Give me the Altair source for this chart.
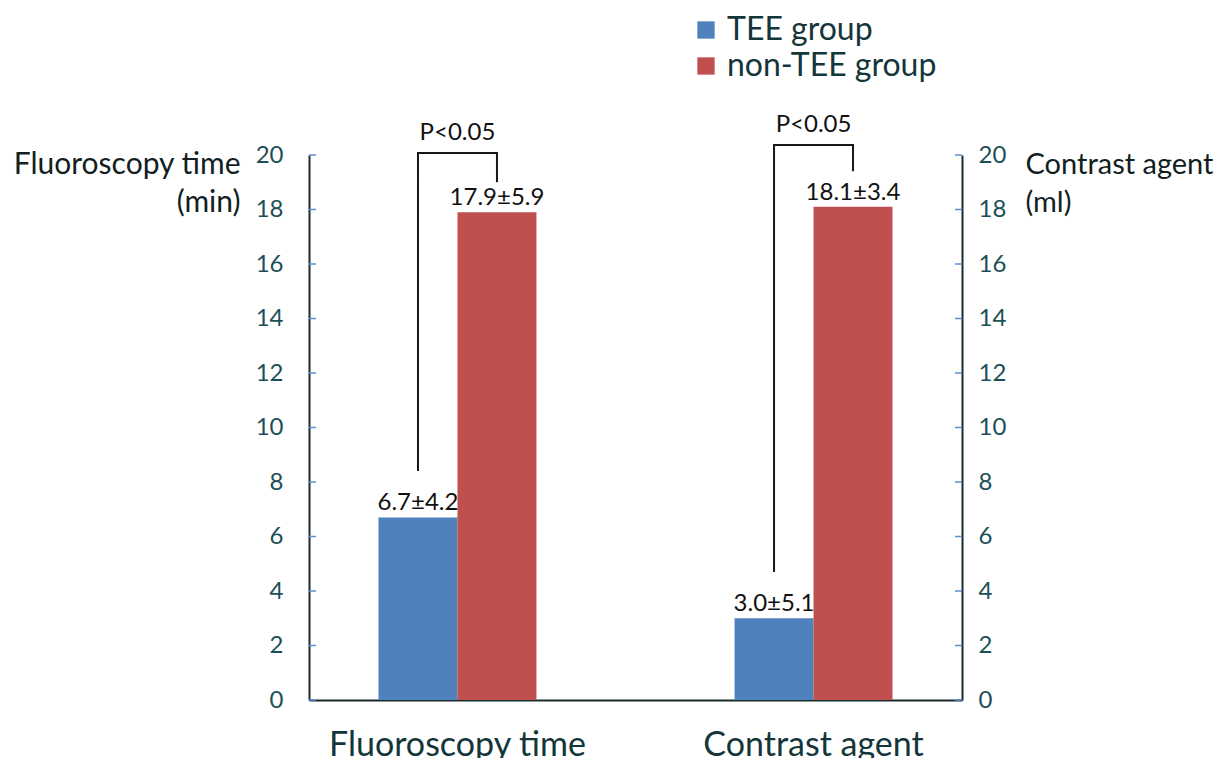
import altair as alt
import pandas as pd

metrics = ["Fluoroscopy time", "Contrast agent"]
groups = ["TEE group", "non-TEE group"]
tee_mean = [6.7, 3.0]
tee_sd = [4.2, 5.1]
non_mean = [17.9, 18.1]
non_sd = [5.9, 3.4]
y_ticks = [0, 2, 4, 6, 8, 10, 12, 14, 16, 18, 20]
bracket_left = [8.4, 4.7]
bracket_top = [20.07, 20.37]
bracket_right = [19.0, 19.4]
p_text = ["P<0.05", "P<0.05"]
colors = ["#4F81BD", "#C0504D"]

W, H = 653, 545
FONT = "Lato"
DARK = "#1c2b2e"
TEAL = "#1d4f57"

rows = []
for i, m in enumerate(metrics):
    rows.append({"metric": m, "group": groups[0], "value": tee_mean[i],
                 "label": f"{tee_mean[i]:.1f}\u00b1{tee_sd[i]:.1f}"})
    rows.append({"metric": m, "group": groups[1], "value": non_mean[i],
                 "label": f"{non_mean[i]:.1f}\u00b1{non_sd[i]:.1f}"})
bars_df = pd.DataFrame(rows)

br = []
for i, m in enumerate(metrics):
    br += [
        {"metric": m, "group": groups[0], "y": bracket_left[i], "o": 0},
        {"metric": m, "group": groups[0], "y": bracket_top[i], "o": 1},
        {"metric": m, "group": groups[1], "y": bracket_top[i], "o": 2},
        {"metric": m, "group": groups[1], "y": bracket_right[i], "o": 3},
    ]
br_df = pd.DataFrame(br)
p_df = pd.DataFrame({"metric": metrics, "y": bracket_top, "text": p_text})
ticks_df = pd.DataFrame({"v": y_ticks})

xscale = alt.Scale(domain=metrics, paddingInner=0.166, paddingOuter=0)
offscale = alt.Scale(domain=groups, paddingInner=0, paddingOuter=0.88)
yscale = alt.Scale(domain=[0, 20], nice=False, zero=True)

x_axis = alt.Axis(title=None, labelAngle=0, labelFont=FONT, labelFontSize=34,
                  labelColor="#14363a", labelPadding=55, labelBaseline="alphabetic",
                  labelLimit=0, ticks=False, tickSize=0, domainColor=DARK,
                  domainWidth=2, grid=False)
X = alt.X("metric:N", scale=xscale, sort=metrics, axis=x_axis)
XO = alt.XOffset("group:N", scale=offscale, sort=groups)

left_axis = alt.Axis(
    title=["Fluoroscopy time", "(min)"], titleAngle=0, titleAlign="right",
    titleBaseline="alphabetic", titleX=-69, titleY=18, titleFont=FONT,
    titleFontSize=30, titleFontWeight="normal", titleColor="#111e22",
    titleLineHeight=38, titleLimit=0, values=y_ticks, labelFont=FONT,
    labelFontSize=24, labelColor=TEAL, labelPadding=26, ticks=False,
    tickSize=0, grid=False, domainColor=DARK, domainWidth=2)

right_axis = alt.Axis(
    orient="right",
    title=["Contrast agent", "(ml)"], titleAngle=0, titleAlign="left",
    titleBaseline="alphabetic", titleX=63, titleY=18, titleFont=FONT,
    titleFontSize=29, titleFontWeight="normal", titleColor="#111e22",
    titleLineHeight=38, titleLimit=0, values=y_ticks, labelFont=FONT,
    labelFontSize=24, labelColor=TEAL, labelPadding=16, ticks=False,
    tickSize=0, grid=False, domainColor=DARK, domainWidth=2)

bars = alt.Chart(bars_df).mark_bar().encode(
    x=X, xOffset=XO,
    y=alt.Y("value:Q", scale=yscale, axis=left_axis),
    color=alt.Color("group:N", scale=alt.Scale(domain=groups, range=colors),
                    legend=alt.Legend(title=None, orient="none", legendX=381, legendY=-141,
                                      symbolType="square", symbolSize=300,
                                      symbolStrokeWidth=0, symbolOpacity=1,
                                      labelFont=FONT, labelFontSize=32,
                                      labelColor="#14363a", rowPadding=4,
                                      labelOffset=5, padding=0, labelLimit=0)),
)

labels = alt.Chart(bars_df).mark_text(
    dy=-14, baseline="middle", font=FONT, fontSize=24, color="#111"
).encode(x=X, xOffset=XO, y=alt.Y("value:Q", scale=yscale, axis=left_axis),
         text="label:N")

brackets = alt.Chart(br_df).mark_line(color="#15191b", strokeWidth=2).encode(
    x=X, xOffset=XO, y=alt.Y("y:Q", scale=yscale, axis=left_axis),
    order="o:Q", detail="metric:N")

ptext = alt.Chart(p_df).mark_text(
    dy=-20, baseline="middle", font=FONT, fontSize=24, color="#111"
).encode(x=X, y=alt.Y("y:Q", scale=yscale, axis=left_axis), text="text:N")

lticks = alt.Chart(ticks_df).mark_rule(color="#5b8fd0", strokeWidth=1.5).encode(
    y=alt.Y("v:Q", scale=yscale, axis=left_axis), x=alt.value(0), x2=alt.value(7))

main = alt.layer(bars, labels, brackets, ptext, lticks)

rticks = alt.Chart(ticks_df).mark_rule(color="#5b8fd0", strokeWidth=1.5).encode(
    y=alt.Y("v:Q", scale=yscale, axis=right_axis), x=alt.value(W - 7), x2=alt.value(W))

chart = alt.layer(main, rticks).resolve_scale(y="independent").properties(
    width=W, height=H,
    background="white",
    view=alt.ViewBackground(stroke="transparent", strokeWidth=0),
    autosize=alt.AutoSizeParams(type="none"),
    padding={"left": 301, "top": 147, "right": 253, "bottom": 58},
).configure(
    view=alt.ViewConfig(stroke="transparent", strokeWidth=0),
    style={"cell": {"stroke": "transparent", "strokeWidth": 0}},
)

chart.save("out.html", embed_options={"renderer": "svg", "actions": False})
